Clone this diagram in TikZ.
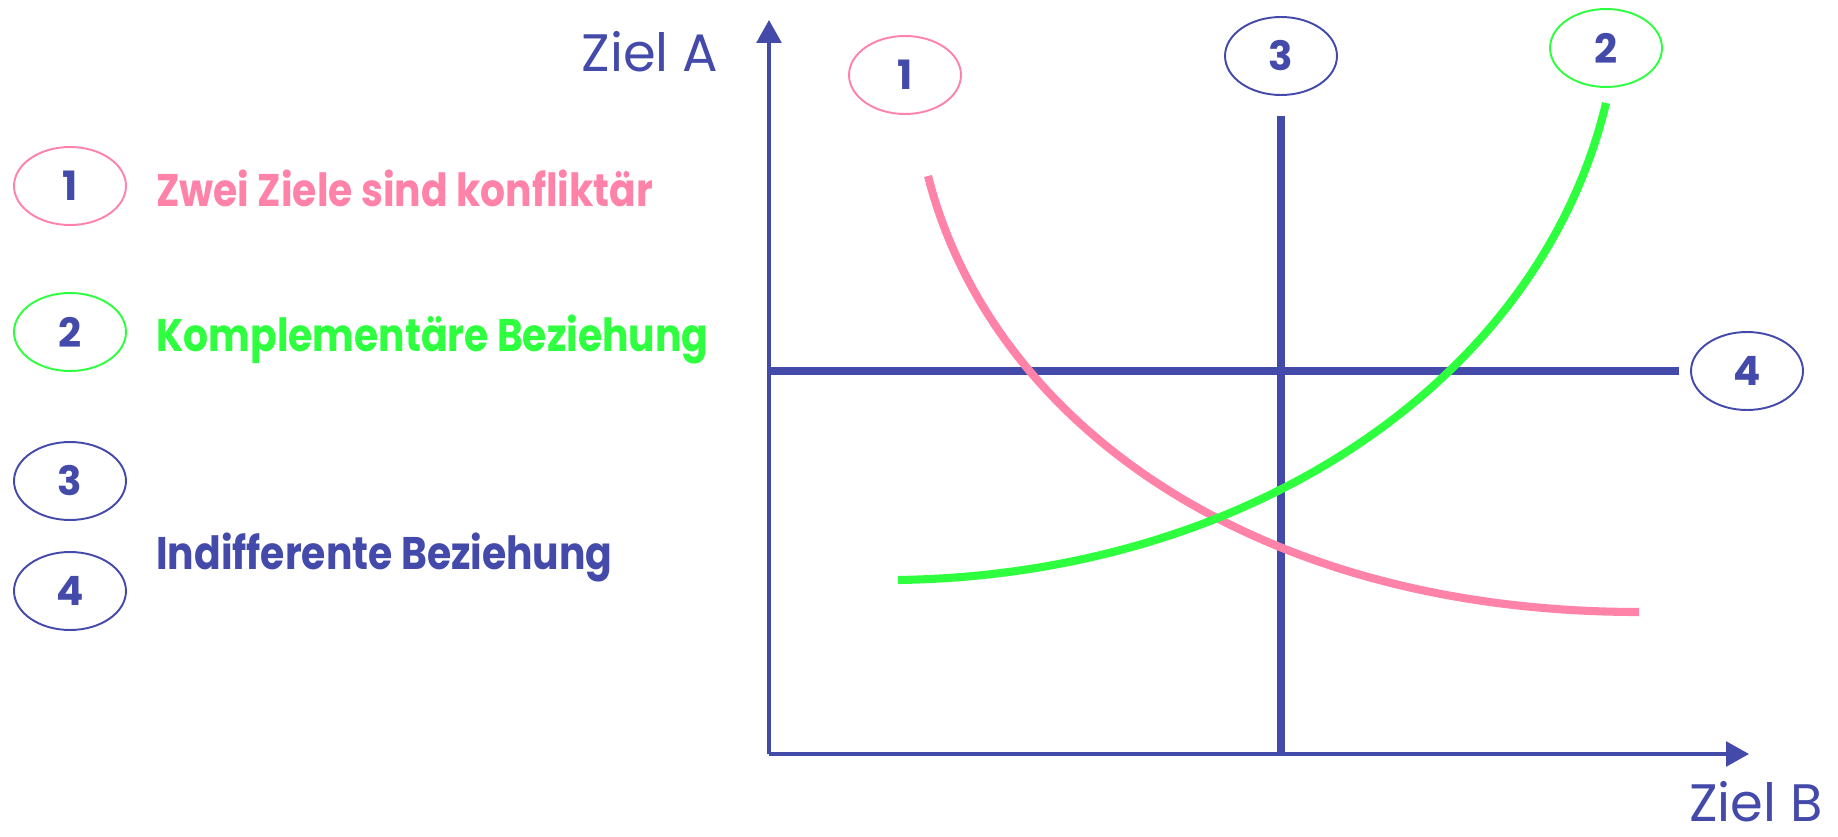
\documentclass[tikz,border=0pt]{standalone}
\usepackage{fontspec}
\setmainfont{Poppins}
\newfontfamily\legfont[FakeStretch=0.86]{Poppins}
\usetikzlibrary{shapes.geometric,arrows.meta,positioning}
\definecolor{zblau}{HTML}{444AAA}
\definecolor{zrosa}{HTML}{FF82A9}
\definecolor{zgruen}{HTML}{2EFF3E}
\begin{document}
\begin{tikzpicture}[x=0.02cm,y=-0.02cm,
    kreis/.style={ellipse,draw,line width=1.1pt,minimum width=2.24cm,minimum height=1.56cm,
      inner sep=0pt,text=zblau,font=\fontsize{23}{23}\selectfont\bfseries},
    legende/.style={anchor=base west,inner sep=0pt,font=\fontsize{26}{26}\legfont\bfseries},
    achse/.style={zblau,line width=2pt,-{Triangle[length=13pt,width=14pt]}},
    linie/.style={line width=4.6pt}]
  \useasboundingbox (0,0) rectangle (1838,837);
  % Achsen
  \coordinate (O) at (769,754);
  \coordinate (ytop) at (769,20);
  \coordinate (xend) at (1749,754);
  \draw[achse] (O) -- (ytop);
  \draw[achse] (O) -- (xend);
  \node[anchor=base,inner sep=0pt,text=zblau,font=\fontsize{30}{30}\selectfont] (zielA) at (650,72) {Ziel A};
  \node[anchor=base,inner sep=0pt,text=zblau,font=\fontsize{30}{30}\selectfont] (zielB) at (1756,821) {Ziel B};
  % Kreise am Diagramm
  \node[kreis,draw=zrosa] (e1) at (905,75) {1};
  \node[kreis,draw=zgruen] (e2) at (1606,48) {2};
  \node[kreis,draw=zblau] (e3) at (1281,56) {3};
  \node[kreis,draw=zblau] (e4) at (1747,371) {4};
  % 3 und 4: indifferent
  \draw[linie,zblau] ([yshift=-0.4cm]e3.south) -- (e3 |- O);
  \draw[linie,zblau] (O |- e4) -- ([xshift=-0.22cm]e4.west);
  % 1: konfliktaer, 2: komplementaer
  \draw[linie,zrosa] (928,176) .. controls (990,420) and (1250,612) .. (1639,612);
  \draw[linie,zgruen] (898,580) .. controls (1250,575) and (1540,380) .. (1606,103);
  % Legende
  \node[kreis,draw=zrosa] (l1) at (70,186) {1};
  \node[kreis,draw=zgruen] (l2) at (70,332) {2};
  \node[kreis,draw=zblau] (l3) at (70,481) {3};
  \node[kreis,draw=zblau] (l4) at (70,591) {4};
  \node[legende,text=zrosa] (t1) at (156,207) {Zwei Ziele sind konfliktär};
  \node[legende,text=zgruen] (t2) at (156,352) {Komplementäre Beziehung};
  \node[legende,text=zblau] (t3) at (156,569) {Indifferente Beziehung};
\end{tikzpicture}
\end{document}
